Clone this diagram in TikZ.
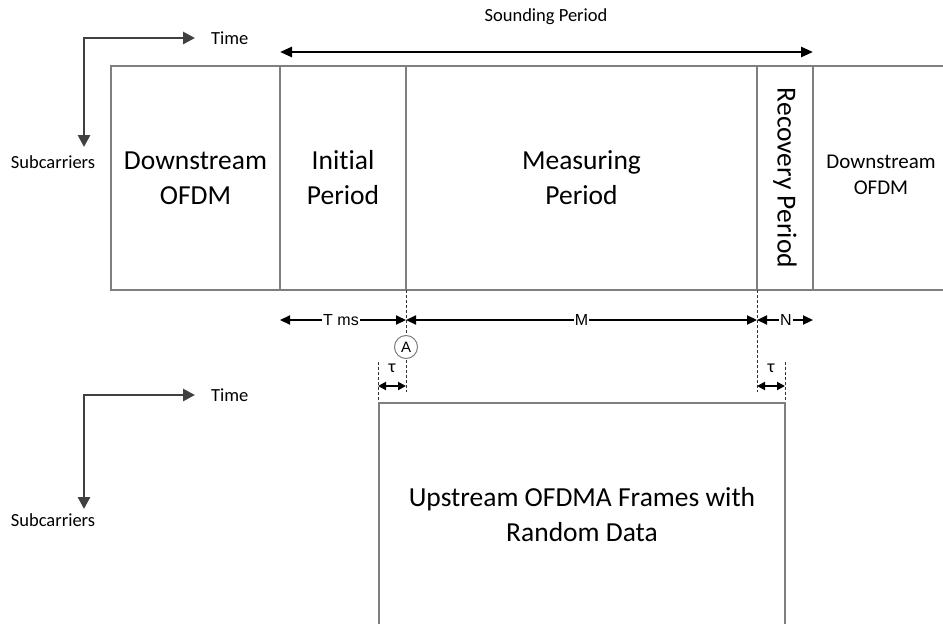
\documentclass[tikz,border=0pt]{standalone}
\usepackage{fontspec}
\setmainfont{Carlito}[Ligatures={NoCommon}]
\newfontfamily\dimfont{Liberation Sans}
\usetikzlibrary{arrows.meta}
\definecolor{boxgray}{HTML}{7F7F7F}
\definecolor{axisgray}{HTML}{404040}
\tikzset{
  boxline/.style={draw=boxgray, line width=1.5pt},
  axisline/.style={draw=axisgray, line width=2.8pt, {Triangle[length=12pt,width=12pt]}-{Triangle[length=12pt,width=12pt]}},
  bigtext/.style={font=\fontsize{27.5}{35}\selectfont, align=center, inner sep=0pt},
  midtext/.style={font=\fontsize{21}{26}\selectfont, align=center, inner sep=0pt},
  smalltext/.style={font=\fontsize{18.5}{22}\selectfont, inner sep=0pt},
  dimtext/.style={font=\dimfont\fontsize{16}{18}\selectfont, fill=white, inner sep=1pt},
  dimarrow/.style={draw=black, line width=2.2pt, {Triangle[length=10pt,width=9pt]}-{Triangle[length=10pt,width=9pt]}},
  tauarrow/.style={draw=black, line width=1.9pt, {Triangle[length=8pt,width=8pt]}-{Triangle[length=8pt,width=8pt]}},
  spanarrow/.style={draw=black, line width=2.6pt, {Triangle[length=12pt,width=10pt]}-{Triangle[length=12pt,width=10pt]}},
  dashline/.style={draw=black!80, line width=0.9pt, dash pattern=on 3pt off 2pt},
}
\begin{document}
\begin{tikzpicture}[x=1pt,y=-1pt]
\useasboundingbox (0,0) rectangle (943,624);
% ---------- upper axes ----------
\coordinate (ax1c) at (84,38);
\coordinate (ax1t) at (195,38);
\coordinate (ax1s) at (84,147);
\draw[axisline] (ax1t) -- (ax1c) -- (ax1s);
\node[smalltext, anchor=west] (time1) at (211,38) {Time};
\node[smalltext] (sub1) at (53,162) {Subcarriers};
% ---------- lower axes ----------
\coordinate (ax2c) at (84,395);
\coordinate (ax2t) at (195,395);
\coordinate (ax2s) at (84,509);
\draw[axisline] (ax2t) -- (ax2c) -- (ax2s);
\node[smalltext, anchor=west] (time2) at (211,395) {Time};
\node[smalltext] (sub2) at (53,520) {Subcarriers};
% ---------- upper frame ----------
\coordinate (tl) at (111,66);
\coordinate (bl) at (111,290);
\coordinate (tr) at (943,66);
\coordinate (br) at (943,290);
\draw[boxline] (tr) -- (tl) -- (bl) -- (br);
\foreach \x/\n in {280/a,406/b,757/c,813/d}{
  \coordinate (t\n) at (\x,66);
  \coordinate (b\n) at (\x,290);
  \draw[boxline] (t\n) -- (b\n);
}
\node[bigtext] (dsofdm1) at (195.5,178) {Downstream\\OFDM};
\node[bigtext] (initial) at (343,178) {Initial\\Period};
\node[bigtext] (measuring) at (581.5,178) {Measuring\\Period};
\node[bigtext, rotate=-90] (recovery) at (785,178) {Recovery Period};
\node[midtext] (dsofdm2) at (881,175) {Downstream\\OFDM};
% ---------- sounding period ----------
\coordinate (sp1) at (280,52);
\coordinate (sp2) at (813,52);
\draw[spanarrow] (sp1) -- (sp2);
\node[smalltext] (splabel) at (546,17) {Sounding Period};
% ---------- dashed guides ----------
\coordinate (gA1) at (406,290);
\coordinate (gA2) at (406,392);
\coordinate (gB1) at (757,290);
\coordinate (gB2) at (757,392);
\coordinate (gC1) at (378,362);
\coordinate (gC2) at (378,403);
\coordinate (gD1) at (785,362);
\coordinate (gD2) at (785,403);
\draw[dashline] (gA1) -- (gA2);
\draw[dashline] (gB1) -- (gB2);
\draw[dashline] (gC1) -- (gC2);
\draw[dashline] (gD1) -- (gD2);
% ---------- dimension arrows ----------
\coordinate (d0) at (280,320);
\coordinate (d1) at (406,320);
\coordinate (d2) at (757,320);
\coordinate (d3) at (813,320);
\draw[dimarrow] (d0) -- (d1);
\draw[dimarrow] (d1) -- (d2);
\draw[dimarrow] (d2) -- (d3);
\node[dimtext] (tms) at (341,320) {T ms};
\node[dimtext] (mlab) at (581.5,320) {M};
\node[dimtext] (nlab) at (786,320) {N};
\node[draw=boxgray, line width=1pt, circle, fill=white, minimum size=23pt, inner sep=0pt, font=\dimfont\fontsize{15}{16}\selectfont] (A) at (406,347) {A};
% ---------- tau arrows ----------
\coordinate (t1a) at (378,386);
\coordinate (t1b) at (406,386);
\coordinate (t2a) at (757,386);
\coordinate (t2b) at (785,386);
\draw[tauarrow] (t1a) -- (t1b);
\draw[tauarrow] (t2a) -- (t2b);
\node[font=\fontsize{18}{18}\selectfont, inner sep=0pt] (tau1) at (392,368) {τ};
\node[font=\fontsize{18}{18}\selectfont, inner sep=0pt] (tau2) at (771,368) {τ};
% ---------- lower frame ----------
\coordinate (ul1) at (379,624);
\coordinate (ul2) at (379,403);
\coordinate (ul3) at (785,403);
\coordinate (ul4) at (785,624);
\draw[boxline, line width=1.9pt] (ul1) -- (ul2) -- (ul3) -- (ul4);
\node[bigtext] (upstream) at (582,515) {Upstream OFDMA Frames with\\Random Data};
\end{tikzpicture}
\end{document}
